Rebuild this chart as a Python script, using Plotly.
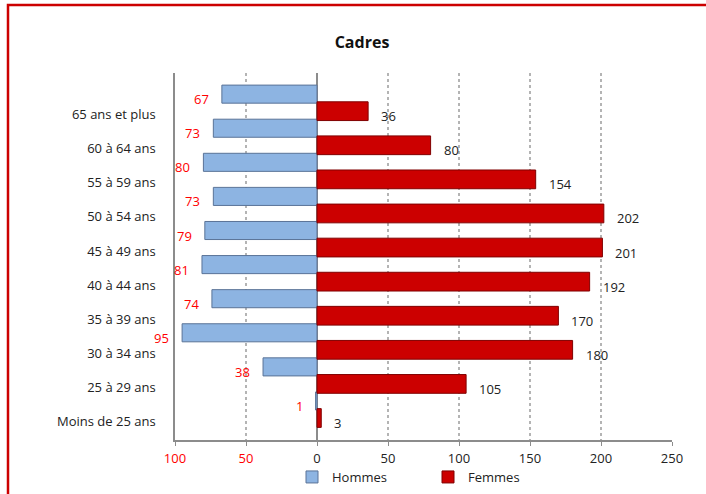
import plotly.graph_objects as go

categories = ["Moins de 25 ans", "25 à 29 ans", "30 à 34 ans", "35 à 39 ans", "40 à 44 ans",
              "45 à 49 ans", "50 à 54 ans", "55 à 59 ans", "60 à 64 ans", "65 ans et plus"]
hommes = [1, 38, 95, 74, 81, 79, 73, 80, 73, 67]
femmes = [3, 105, 180, 170, 192, 201, 202, 154, 80, 36]
x_tickvals = [-100, -50, 0, 50, 100, 150, 200, 250]
x_ticktext = ['<span style="color:#FF0000">100</span>', '<span style="color:#FF0000">50</span>',
              "0", "50", "100", "150", "200", "250"]

n = len(categories)
pos_f = list(range(n))
pos_h = [p + 0.5 for p in pos_f]

FONT = "Open Sans"
FS = 13

fig = go.Figure()
fig.add_trace(go.Bar(
    y=pos_h, x=[-v for v in hommes], orientation="h", name="Hommes", width=0.53,
    marker=dict(color="#8DB4E2", line=dict(color="#5A7397", width=1)),
    hoverinfo="skip"))
fig.add_trace(go.Bar(
    y=pos_f, x=femmes, orientation="h", name="Femmes", width=0.55,
    marker=dict(color="#CC0000", line=dict(color="#800000", width=1)),
    hoverinfo="skip"))

annotations = []
for p, v in zip(pos_h, hommes):
    annotations.append(dict(x=-v, y=p, xref="x", yref="y", text=str(v), showarrow=False,
                            xanchor="right", xshift=-11, yshift=-5,
                            font=dict(family=FONT, size=FS, color="#FF0000")))
for p, v in zip(pos_f, femmes):
    annotations.append(dict(x=v, y=p, xref="x", yref="y", text=str(v), showarrow=False,
                            xanchor="left", xshift=11, yshift=-5,
                            font=dict(family=FONT, size=FS, color="#222222")))

L, T, R, B = 175, 73, 34, 54
W, H = 706, 494
pw, ph = W - L - R, H - T - B

fig.update_layout(
    width=W, height=H,
    margin=dict(l=L, r=R, t=T, b=B, autoexpand=False),
    paper_bgcolor="white", plot_bgcolor="white",
    barmode="overlay",
    showlegend=True,
    title=dict(text="<b>Cadres</b>", x=362 / W, xanchor="center", y=1 - 42 / H, yanchor="middle",
               font=dict(family=FONT, size=16, color="#111111")),
    font=dict(family=FONT, size=FS, color="#222222"),
    legend=dict(orientation="h", x=(292 - L) / pw, xanchor="left", y=(440 - 477) / ph, yanchor="middle",
                font=dict(family=FONT, size=FS, color="#222222"), itemwidth=30, entrywidth=91,
                bgcolor="rgba(0,0,0,0)"),
    annotations=annotations,
    shapes=[dict(type="rect", xref="paper", yref="paper",
                 x0=(8 - L) / pw, x1=(W + 20 - L) / pw,
                 y0=-(B + 20) / ph, y1=1 + (T - 5) / ph,
                 line=dict(color="#CC0000", width=2.5), layer="above")],
)

fig.update_xaxes(
    range=[-100, 250], tickvals=x_tickvals, ticktext=x_ticktext,
    showgrid=True, gridcolor="#B4B4B4", gridwidth=2, griddash="dot",
    zeroline=True, zerolinecolor="#8C8C8C", zerolinewidth=1.5,
    showline=True, linecolor="#8C8C8C", linewidth=1.5,
    ticks="outside", ticklen=4, tickcolor="#8C8C8C", ticklabelstandoff=2,
    tickfont=dict(family=FONT, size=FS, color="#222222"),
    fixedrange=True,
)
fig.update_yaxes(
    range=[-0.645, 10.12], tickvals=[p - 0.1 for p in pos_f], ticktext=categories,
    showgrid=False, zeroline=False,
    showline=True, linecolor="#8C8C8C", linewidth=1.5, mirror=False,
    ticks="", ticklabelstandoff=15,
    tickfont=dict(family=FONT, size=FS, color="#222222"),
    fixedrange=True,
)

fig.write_html("out.html")
